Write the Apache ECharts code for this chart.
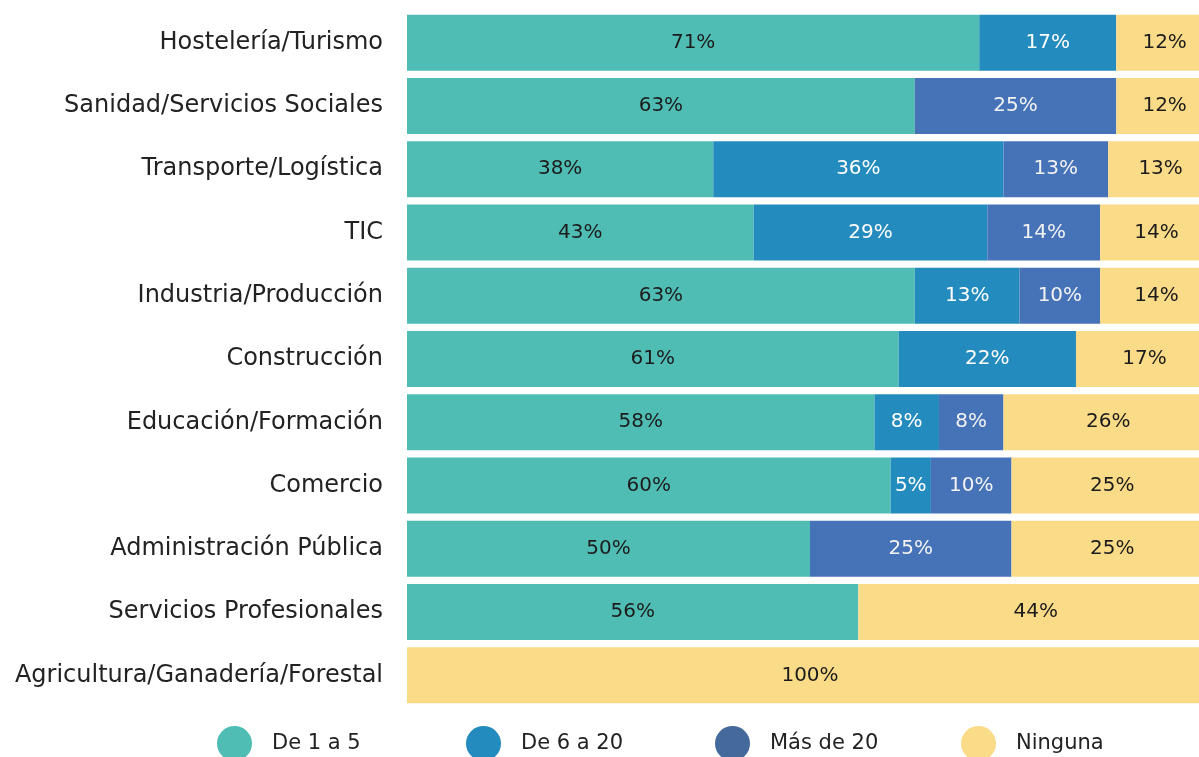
<!DOCTYPE html>
<html>
<head>
<meta charset="utf-8">
<script src="https://cdn.jsdelivr.net/npm/echarts@6/dist/echarts.min.js"></script>
<style>
  html, body { margin: 0; padding: 0; background: #fff; }
  #chart { width: 1199px; height: 757px; }
</style>
</head>
<body>
<div id="chart"></div>
<script>
// sectores (de arriba a abajo)
const categories = [
  'Hostelería/Turismo',
  'Sanidad/Servicios Sociales',
  'Transporte/Logística',
  'TIC',
  'Industria/Producción',
  'Construcción',
  'Educación/Formación',
  'Comercio',
  'Administración Pública',
  'Servicios Profesionales',
  'Agricultura/Ganadería/Forestal'
];

const seriesNames = ['De 1 a 5', 'De 6 a 20', 'Más de 20', 'Ninguna'];

const de1a5    = [71, 63, 38, 43, 63, 61, 58, 60, 50, 56, 0];
const de6a20   = [17, 0, 36, 29, 13, 22, 8, 5, 0, 0, 0];
const masDe20  = [0, 25, 13, 14, 10, 0, 8, 10, 25, 0, 0];
const ninguna  = [12, 12, 13, 14, 14, 17, 26, 25, 25, 44, 100];

const values = [de1a5, de6a20, masDe20, ninguna];

const barColors = ['#4fbdb4', '#238bbd', '#4673b8', '#fadb87'];
const legendColors = ['#4fbdb4', '#238bbd', '#44699b', '#fadb87'];
const labelColors = ['#1c1c1c', '#ffffff', '#f2f2f2', '#1c1c1c'];

const FONT = 'DejaVu Sans';

const chart = echarts.init(document.getElementById('chart'));

// una leyenda por serie para colocarlas igual que en el original
const legendLeft = [217, 466, 715, 961];
const legends = seriesNames.map((name, i) => ({
  left: legendLeft[i],
  top: 726,
  padding: 0,
  orient: 'horizontal',
  icon: 'circle',
  itemWidth: 35,
  itemHeight: 35,
  selectedMode: false,
  data: [{ name: name, itemStyle: { color: legendColors[i] } }],
  textStyle: {
    fontFamily: FONT,
    fontSize: 21,
    color: '#222',
    padding: [0, 0, 0, 15]
  }
}));

const option = {
  backgroundColor: '#fff',
  animation: false,
  legend: legends,
  grid: {
    left: 407,
    top: 11,
    width: 806,
    height: 696,
    containLabel: false,
    outerBoundsMode: 'none'
  },
  xAxis: {
    type: 'value',
    min: 0,
    max: 100,
    show: false
  },
  yAxis: {
    type: 'category',
    data: categories,
    inverse: true,
    axisLine: { show: false },
    axisTick: { show: false },
    axisLabel: {
      margin: 24,
      fontFamily: FONT,
      fontSize: 24,
      color: '#222'
    }
  },
  series: seriesNames.map((name, i) => ({
    name: name,
    type: 'bar',
    stack: 'total',
    barCategoryGap: '11.5%',
    data: values[i],
    itemStyle: { color: barColors[i] },
    label: {
      show: true,
      position: 'inside',
      fontFamily: FONT,
      fontSize: 20,
      color: labelColors[i],
      formatter: p => (p.value > 0 ? p.value + '%' : '')
    }
  }))
};

chart.setOption(option);
</script>
</body>
</html>
